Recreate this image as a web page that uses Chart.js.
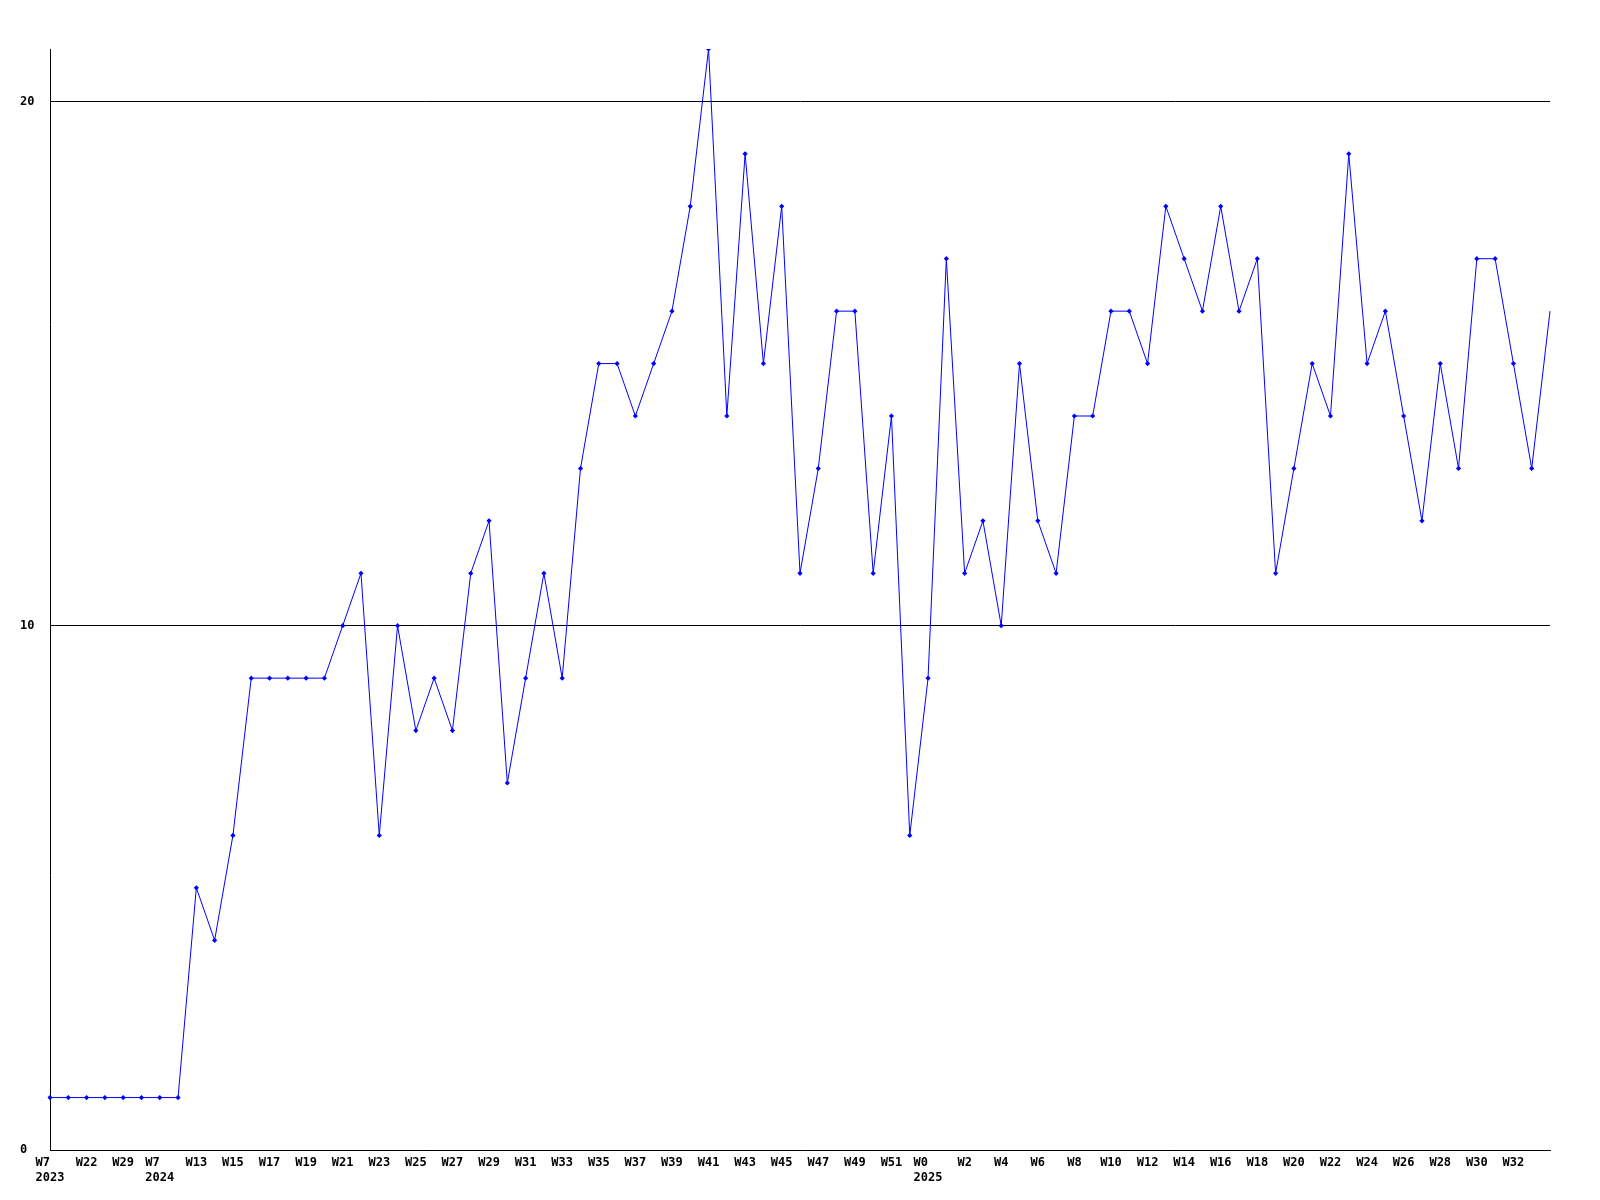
<!DOCTYPE html>
<html>
<head>
<meta charset="utf-8">
<script src="https://cdn.jsdelivr.net/npm/chart.js@4/dist/chart.umd.min.js"></script>
<style>
  html, body { margin: 0; padding: 0; background: #fff; }
  canvas { display: block; }
</style>
</head>
<body>
<canvas id="weekChart" width="1600" height="1200"></canvas>
<script>
// week labels (odd entries are not printed on the axis)
const weeks = ['W7', 'W15', 'W22', 'W25', 'W29', 'W35', 'W7', 'W10',
    'W13', 'W14', 'W15', 'W16', 'W17', 'W18', 'W19', 'W20', 'W21', 'W22',
    'W23', 'W24', 'W25', 'W26', 'W27', 'W28', 'W29', 'W30', 'W31', 'W32',
    'W33', 'W34', 'W35', 'W36', 'W37', 'W38', 'W39', 'W40', 'W41', 'W42',
    'W43', 'W44', 'W45', 'W46', 'W47', 'W48', 'W49', 'W50', 'W51', 'W52',
    'W0', 'W1', 'W2', 'W3', 'W4', 'W5', 'W6', 'W7', 'W8', 'W9', 'W10',
    'W11', 'W12', 'W13', 'W14', 'W15', 'W16', 'W17', 'W18', 'W19', 'W20',
    'W21', 'W22', 'W23', 'W24', 'W25', 'W26', 'W27', 'W28', 'W29', 'W30',
    'W31', 'W32', 'W33', 'W34'];

// year shown under the first week of each year
const years = { 0: '2023', 6: '2024', 48: '2025' };

const counts = [1, 1, 1, 1, 1, 1, 1, 1,
    5, 4, 6, 9, 9, 9, 9, 9, 10, 11,
    6, 10, 8, 9, 8, 11, 12, 7, 9, 11,
    9, 13, 15, 15, 14, 15, 16, 18, 21, 14,
    19, 15, 18, 11, 13, 16, 16, 11, 14, 6,
    9, 17, 11, 12, 10, 15, 12, 11, 14, 14, 16,
    16, 15, 18, 17, 16, 18, 16, 17, 11, 13,
    15, 14, 19, 15, 16, 14, 12, 15, 13, 17,
    17, 15, 13, 16];

const yTicks = [0, 10, 20];

let labels = [];
for (let i = 0; i < weeks.length; i++) {
    if (years[i]) {
        // pad the week so both lines start at the same x
        labels.push([weeks[i].padEnd(years[i].length, ' '), years[i]]);
    } else {
        labels.push(weeks[i]);
    }
}

const tickFont = { family: 'DejaVu Sans Mono', size: 12, weight: 'bold', lineHeight: 1.25 };
const lastIdx = counts.length - 1;

let ctx = document.getElementById('weekChart').getContext('2d');

new Chart(ctx, {
    type: 'line',
    data: {
        labels: labels,
        datasets: [{
            data: counts,
            borderColor: '#0000ff',
            backgroundColor: '#0000ff',
            borderWidth: 1,
            tension: 0,
            pointStyle: 'rectRot',
            pointRadius: function(c) { return c.dataIndex === lastIdx ? 0 : 2.6; },
            pointBorderWidth: 0,
            pointHoverRadius: 2.6
        }]
    },
    options: {
        responsive: false,
        animation: false,
        events: [],
        layout: { padding: { left: 20, right: 50, top: 49, bottom: 0 } },
        plugins: {
            legend: { display: false },
            title: { display: false },
            tooltip: { enabled: false }
        },
        scales: {
            x: {
                type: 'category',
                offset: false,
                grid: { display: false, drawTicks: false },
                border: { display: true, color: '#000', width: 1 },
                ticks: {
                    autoSkip: false,
                    maxRotation: 0,
                    minRotation: 0,
                    padding: 5,
                    color: '#000',
                    font: tickFont,
                    callback: function(value, index) {
                        if (index % 2 !== 0 || index === lastIdx) return '';
                        return labels[index];
                    }
                },
                afterFit: function(scale) { scale.height = 50; }
            },
            y: {
                min: 0,
                max: 21,
                grid: { color: '#000', lineWidth: 1, drawTicks: false },
                border: { display: true, color: '#000', width: 1 },
                ticks: {
                    stepSize: 10,
                    crossAlign: 'far',
                    padding: 0,
                    color: '#000',
                    font: tickFont
                },
                afterBuildTicks: function(scale) {
                    scale.ticks = yTicks.map(v => ({ value: v }));
                },
                afterFit: function(scale) { scale.width = 30; }
            }
        }
    }
});
</script>
</body>
</html>
